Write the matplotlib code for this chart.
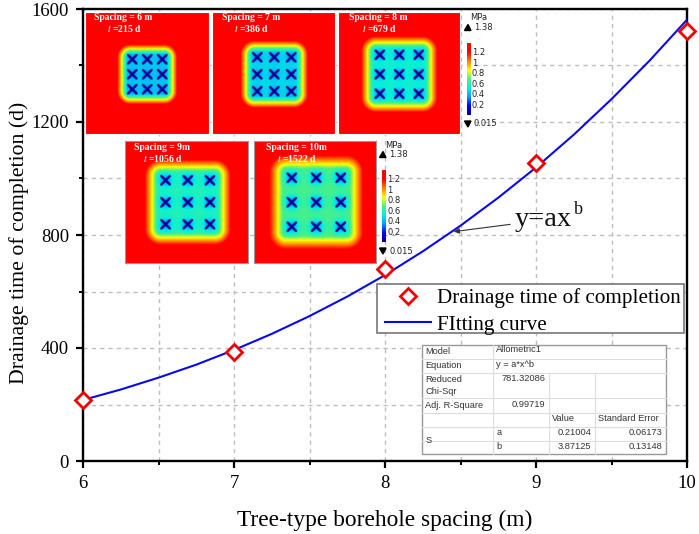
import numpy as np
import matplotlib
matplotlib.use("Agg")
import matplotlib.pyplot as plt
from matplotlib.colors import LinearSegmentedColormap
from matplotlib.patches import Rectangle, Polygon

# pontos medidos
spacing = [6, 7, 8, 9, 10]
days = [215, 386, 679, 1056, 1522]

# curva ajustada
fit_x = [6, 6.25, 6.5, 6.75, 7, 7.25, 7.5, 7.75, 8, 8.25, 8.5, 8.75, 9, 9.25, 9.5, 9.75, 10]
fit_y = [216, 253, 295, 341, 393, 450, 513, 582, 658, 742, 833, 932, 1039, 1155, 1281, 1416, 1562]

panel_titles = ["Spacing = 6 m", "Spacing = 7 m", "Spacing = 8 m", "Spacing = 9m", "Spacing = 10m"]
panel_times = ["215 d", "386 d", "679 d", "1056 d", "1522 d"]
panel_boxes = [(85, 12, 209, 134), (212, 12, 335, 134), (338, 12, 460, 134),
               (125, 141, 248, 263), (254, 141, 376, 263)]
panel_cx = [147, 274, 399, 187, 316]
panel_cy = [74, 74, 74, 202, 202]
panel_pitch = [15, 17, 19.5, 22, 24.5]
panel_inner = [0.44, 0.48, 0.56, 0.60, 0.68]
title_dx = [9, 10, 11, 9, 12]
time_dx = [22, 22, 24, 18, 23]

cbar_ticks = [1.2, 1, 0.8, 0.6, 0.4, 0.2]

table_rows = [344.7, 359.3, 373.3, 398.3, 413.3, 426.7, 440.7, 454.3]
table_cols = [422.3, 493.3, 549.3, 595.3, 666]

plt.rcParams["font.family"] = ["Liberation Serif", "DejaVu Serif"]
W, H = 699, 534
fig = plt.figure(figsize=(W / 100, H / 100), dpi=100)

cmap = LinearSegmentedColormap.from_list(
    "pressao", ["#000090", "#0000ff", "#00a0ff", "#00f0e0", "#50f080", "#ffff00", "#ff8000", "#ff0000", "#ff0000"])


def box(x0, y0, x1, y1):
    return [x0 / W, 1 - y1 / H, (x1 - x0) / W, (y1 - y0) / H]


ax = fig.add_axes(box(83, 9, 687, 461))
ax.set_xlim(6, 10)
ax.set_ylim(0, 1600)
ax.set_xticks(spacing)
ax.set_xticks([6.5, 7.5, 8.5, 9.5], minor=True)
ax.set_yticks([0, 400, 800, 1200, 1600])
ax.set_yticks([200, 600, 1000, 1400], minor=True)
ax.grid(True, which="both", color="#bdbdbd", ls=(0, (3, 3)), lw=1.0)
ax.set_axisbelow(True)
ax.tick_params(which="major", length=5, width=1.6, labelsize=13.5, pad=5)
ax.tick_params(which="minor", length=3, width=1.4)
for s in ax.spines.values():
    s.set_linewidth(1.7)
ax.set_xlabel("Tree-type borehole spacing (m)", fontsize=16.8, labelpad=13)
ax.set_ylabel("Drainage time of completion (d)", fontsize=15.7, labelpad=2, y=0.483)

line, = ax.plot(fit_x, fit_y, color="#0a0ae6", lw=1.5, label="FItting curve", zorder=3)
pts, = ax.plot(spacing, days, ls="none", marker="D", ms=8.5, mfc="white", mec="#f00000",
               mew=2, clip_on=False, label="Drainage time of completion", zorder=4)

# caixa da legenda
ax.add_patch(Rectangle((0.487, 0.2832), 0.5083, 0.1084, transform=ax.transAxes, fc="white",
                       ec="#777777", lw=1.2, zorder=5))
leg = ax.legend(handles=[pts, line], loc="upper left", bbox_to_anchor=(0.5, 0.3815), fontsize=15.2,
                frameon=False, borderpad=0, labelspacing=0.3, handlelength=2.2,
                handletextpad=0.25, borderaxespad=0)
leg.set_zorder(6)

# mapas de pressao
for i in range(5):
    x0, y0, x1, y1 = panel_boxes[i]
    xx, yy = np.meshgrid(np.arange(x0, x1, 0.5), np.arange(y0, y1, 0.5))
    p = panel_pitch[i]
    inner = panel_inner[i]
    dx = xx - panel_cx[i]
    dy = yy - panel_cy[i]
    half = p * 1.4
    edge = np.hypot(np.maximum(np.abs(dx) - half + 4, 0), np.maximum(np.abs(dy) - half + 4, 0))
    z = inner + (1.38 - inner) * np.clip((edge - 3) / (3 + p * 0.6), 0, 1)
    xs = np.zeros_like(z, dtype=bool)
    for a in (-p, 0, p):
        for b in (-p, 0, p):
            ux = dx - a
            uy = dy - b
            z = z - (inner - 0.33) * np.exp(-(ux ** 2 + uy ** 2) / (0.28 * p) ** 2)
            d = np.abs(np.abs(ux) - np.abs(uy)) / np.sqrt(2)
            xs |= (d < 1.1) & (np.maximum(np.abs(ux), np.abs(uy)) < 5.2)
    z[xs] = 0.02
    iax = fig.add_axes(box(x0, y0, x1, y1))
    iax.imshow(z, cmap=cmap, vmin=0.015, vmax=1.38, aspect="auto", interpolation="bilinear")
    iax.set_xticks([])
    iax.set_yticks([])
    for s in iax.spines.values():
        s.set_color("#999999" if i > 2 else "white")
        s.set_linewidth(0.8)
    fig.text((x0 + title_dx[i]) / W, 1 - (y0 + 6) / H, panel_titles[i], color="white", fontsize=6.9,
             fontweight="bold", va="center")
    fig.text((x0 + time_dx[i]) / W, 1 - (y0 + 17) / H, "$\\mathit{t}$ =" + panel_times[i], color="white",
             fontsize=6.9, fontweight="bold", va="center", math_fontfamily="stix")

# camada em pixels para as anotacoes
top = fig.add_axes([0, 0, 1, 1], facecolor="none")
top.set_xlim(0, W)
top.set_ylim(H, 0)
top.axis("off")

# barras de cor
tc = dict(fontsize=6, family="DejaVu Sans", color="#222222", va="center")
for cx, c0, c1, ty in [(467, 43, 115, 18), (382, 170, 242, 145)]:
    cax = fig.add_axes(box(cx, c0, cx + 3.5, c1))
    cax.imshow(np.linspace(1.38, 0.015, 128).reshape(-1, 1), cmap=cmap, aspect="auto")
    cax.axis("off")
    for v in cbar_ticks:
        top.text(cx + 5, c1 - (v - 0.015) / 1.365 * (c1 - c0), str(v), **tc)
    top.text(cx + 3, ty, "MPa", **tc)
    top.text(cx + 7, ty + 9.5, "1.38", **tc)
    top.text(cx + 7, c1 + 9, "0.015", **tc)
    top.add_patch(Polygon([(cx - 2.5, ty + 12.5), (cx + 4, ty + 12.5), (cx + 1, ty + 6.5)], color="black"))
    top.add_patch(Polygon([(cx - 2.5, c1 + 6), (cx + 4, c1 + 6), (cx + 1, c1 + 12)], color="black"))

# anotacao da equacao
top.text(515, 220, "y=ax", fontsize=20.5, va="center", color="#111111")
top.text(574, 209, "b", fontsize=13, va="center", color="#111111")
top.annotate("", xy=(451, 232), xytext=(513, 224),
             arrowprops=dict(arrowstyle="-|>", color="#333333", lw=0.8, mutation_scale=8))

# tabela do ajuste
c0, c1, c2, c3, c4 = table_cols
r = table_rows
top.add_patch(Rectangle((c0, r[0]), c4 - c0, r[-1] - r[0], fc="white", ec="#999999", lw=1.0))
for yl in r[1:-1]:
    top.plot([c0, c4], [yl, yl], color="#dddddd", lw=0.8)
top.plot([c1, c1], [r[0], r[-1]], color="#dddddd", lw=0.8)
top.plot([c2, c2], [r[2], r[-1]], color="#dddddd", lw=0.8)
top.plot([c3, c3], [r[2], r[-1]], color="#dddddd", lw=0.8)

tk = dict(fontsize=6.7, family="Liberation Sans", color="#333333", va="center")
top.text(c0 + 3, 352, "Model", **tk)
top.text(c1 + 3, 350, "Allometric1", **tk)
top.text(c0 + 3, 366, "Equation", **tk)
top.text(c1 + 3, 364.5, "y = a*x^b", **tk)
top.text(c0 + 3, 380, "Reduced", **tk)
top.text(c0 + 3, 391, "Chi-Sqr", **tk)
top.text(c2 - 4, 378.5, "781.32086", ha="right", **tk)
top.text(c0 + 3, 405.5, "Adj. R-Square", **tk)
top.text(c2 - 4, 404.5, "0.99719", ha="right", **tk)
top.text(c2 + 3, 418.5, "Value", **tk)
top.text(c3 + 3, 418.5, "Standard Error", **tk)
top.text(c0 + 3, 440.5, "S", **tk)
top.text(c1 + 3, 432.5, "a", **tk)
top.text(c1 + 3, 446.5, "b", **tk)
top.text(c3 - 4, 432.5, "0.21004", ha="right", **tk)
top.text(c3 - 4, 446.5, "3.87125", ha="right", **tk)
top.text(c4 - 4, 432.5, "0.06173", ha="right", **tk)
top.text(c4 - 4, 446.5, "0.13148", ha="right", **tk)

fig.savefig("out.png", dpi=100)
